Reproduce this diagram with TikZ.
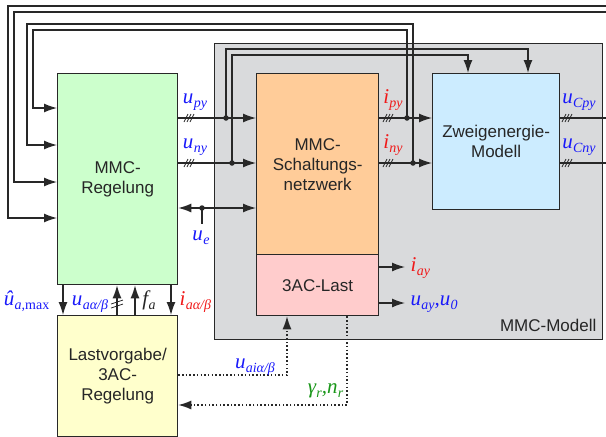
\documentclass[tikz,border=0pt]{standalone}
\usepackage{fontspec}
\setmainfont{Liberation Sans}
\newfontfamily\mf{Liberation Serif}
\usetikzlibrary{arrows.meta,calc}

\definecolor{fgreen}{RGB}{204,255,204}
\definecolor{fyellow}{RGB}{255,255,204}
\definecolor{forange}{RGB}{255,204,153}
\definecolor{fpink}{RGB}{255,204,204}
\definecolor{fblue}{RGB}{204,236,255}
\definecolor{fgrey}{RGB}{217,218,220}
\definecolor{edge}{RGB}{40,40,40}
\definecolor{tblue}{RGB}{25,25,250}
\definecolor{tred}{RGB}{240,25,25}
\definecolor{tgreen}{RGB}{25,150,25}

% symbol with subscript, set in serif italic
\newcommand\vsym[2]{{\mf\itshape\fontsize{21}{23}\selectfont #1\kern0.3pt\raisebox{-4pt}{\fontsize{14}{14}\selectfont #2}}}
\newcommand\vsep{{\mf\itshape\fontsize{21}{23}\selectfont ,}}

\begin{document}
\begin{tikzpicture}[x=1pt,y=-1pt,line width=1.3pt,draw=edge,
  box/.style={draw=edge,line width=1.3pt,anchor=north west,inner sep=0pt,
    align=center,text=black!85,font=\fontsize{17}{20}\selectfont},
  arr/.style={-{Latex[length=13pt,width=9pt]}},
  biarr/.style={{Latex[length=13pt,width=9pt]}-{Latex[length=13pt,width=9pt]}},
  dots/.style={dash pattern=on 1.5pt off 2.2pt,line width=1.3pt},
  jdot/.style={circle,fill=edge,inner sep=0pt,minimum size=5.5pt},
  lbl/.style={anchor=base,inner sep=0pt},
  tri/.pic={\draw[line width=0.8pt] (-5,4)--(-1,-4) (-2,4)--(2,-4) (1,4)--(5,-4);},
  duo/.pic={\draw[line width=0.8pt] (-6,0)--(6,-4) (-6,4)--(6,0);}]
\useasboundingbox (0,0) rectangle (606,437);

% model frame
\node[box,fill=fgrey,minimum width=388pt,minimum height=296pt] (mm) at (214,43) {};
\node[anchor=base east,inner sep=0pt,text=black!85,font=\fontsize{17}{20}\selectfont] (mmlbl) at (597,331) {MMC-Modell};

% blocks
\node[box,fill=fgreen,minimum width=120pt,minimum height=211pt] (g) at (57,73) {MMC-\\Regelung};
\node[box,fill=fyellow,minimum width=120pt,minimum height=121pt] (lv) at (57,315) {Lastvorgabe/\\3AC-\\Regelung};
\node[box,fill=forange,minimum width=122pt,minimum height=181pt] (sn) at (256,73) {MMC-\\Schaltungs-\\netzwerk};
\node[box,fill=fpink,minimum width=122pt,minimum height=61pt] (last) at (256,254) {3AC-Last};
\node[box,fill=fblue,minimum width=127pt,minimum height=136pt] (ze) at (432,73) {Zweigenergie-\\Modell};

% junctions and corner points
\coordinate (jpy) at (226,118);
\coordinate (jny) at (232,163);
\coordinate (jip) at (407,118);
\coordinate (jin) at (413,163);
\coordinate (jue) at (202,208);
\coordinate (ta) at (528,49);
\coordinate (tb) at (468,55);
\coordinate (r1) at (606,6);   \coordinate (c1) at (8,6);   \coordinate (c1b) at (8,218);
\coordinate (r2) at (606,12);  \coordinate (c2) at (14,12); \coordinate (c2b) at (14,182);
\coordinate (c3) at (27,24);   \coordinate (c3b) at (27,145);
\coordinate (c4) at (33,30);   \coordinate (c4b) at (33,108);
\coordinate (ocp) at (606,118);
\coordinate (ocn) at (606,163);

% arm voltages into the switching network
\draw[arr] (g.east |- jpy) -- (sn.west |- jpy);
\draw[arr] (g.east |- jny) -- (sn.west |- jny);
\draw[biarr] (g.east |- jue) -- (sn.west |- jue);
\draw (jue) -- ++(0,16);
% arm currents into the energy model
\draw[arr] (sn.east |- jip) -- (ze.west |- jip);
\draw[arr] (sn.east |- jin) -- (ze.west |- jin);
% capacitor voltages
\draw (ze.east |- jip) -- (ocp);
\draw (ze.east |- jin) -- (ocn);

% voltages fed to the energy model
\draw[arr] (jpy) |- (ta) -- (ta |- ze.north);
\draw[arr] (jny) |- (tb) -- (tb |- ze.north);

% feedback to the controller
\draw[arr] (jip) |- (c4) -- (c4b) -- (c4b -| g.west);
\draw[arr] (jin) |- (c3) -- (c3b) -- (c3b -| g.west);
\draw[arr] (r2) -- (c2) -- (c2b) -- (c2b -| g.west);
\draw[arr] (r1) -- (c1) -- (c1b) -- (c1b -| g.west);

\node[jdot] at (jpy) {};
\node[jdot] at (jny) {};
\node[jdot] at (jip) {};
\node[jdot] at (jin) {};
\node[jdot] at (jue) {};

% three-phase marks
\pic at (189,118) {tri};
\pic at (189,163) {tri};
\pic at (388,118) {tri};
\pic at (388,163) {tri};
\pic at (567,118) {tri};
\pic at (567,163) {tri};

% controller <-> load setpoint
\coordinate (b1) at (63,0);
\coordinate (b2) at (117,0);
\coordinate (b3) at (135,0);
\coordinate (b4) at (171,0);
\draw[arr] (b1 |- g.south) -- (b1 |- lv.north);
\draw[arr] (b2 |- lv.north) -- (b2 |- g.south);
\draw[arr] (b3 |- lv.north) -- (b3 |- g.south);
\draw[arr] (b4 |- g.south) -- (b4 |- lv.north);
\pic at (117,304) {duo};

% load outputs
\coordinate (o1) at (405,267);
\coordinate (o2) at (405,303);
\draw[arr] (last.east |- o1) -- (o1);
\draw[arr] (last.east |- o2) -- (o2);

% dotted signal paths
\coordinate (d1) at (287,375);
\coordinate (d2) at (347,405);
\draw[arr,dots] (lv.east |- d1) -- (d1) -- (d1 |- last.south);
\draw[arr,dots] (d2 |- last.south) -- (d2) -- (d2 -| lv.east);

% labels
\node[lbl,text=tblue] (lupy) at (195,103) {\vsym{u}{py}};
\node[lbl,text=tblue] (luny) at (195,148) {\vsym{u}{ny}};
\node[lbl,text=tred] (lipy) at (393,103) {\vsym{i}{py}};
\node[lbl,text=tred] (liny) at (393,148) {\vsym{i}{ny}};
\node[lbl,text=tblue] (lucp) at (579,103) {\vsym{u}{Cpy}};
\node[lbl,text=tblue] (lucn) at (579,148) {\vsym{u}{Cny}};
\node[lbl,text=tblue] (lue) at (201,240) {\vsym{u}{e}};
\node[lbl,text=tblue,anchor=base east] (luam) at (50,305) {\vsym{û}{a,\upshape max}};
\node[lbl,text=tblue] (luab) at (90,305) {\vsym{u}{aα/β}};
\node[lbl,text=black!85] (lfa) at (149,305) {\vsym{f}{a}};
\node[lbl,text=tred,anchor=base west] (liab) at (179,305) {\vsym{i}{aα/β}};
\node[lbl,text=tblue] (luai) at (255,368) {\vsym{u}{aiα/β}};
\node[lbl,text=tgreen,anchor=base east] (lgr) at (344,393) {\vsym{γ}{r}\vsep\vsym{n}{r}};
\node[lbl,text=tred,anchor=base west] (liay) at (410,271) {\vsym{i}{ay}};
\node[lbl,text=tblue,anchor=base west] (luay) at (410,305) {\vsym{u}{ay}\vsep\vsym{u}{0}};
\end{tikzpicture}
\end{document}
